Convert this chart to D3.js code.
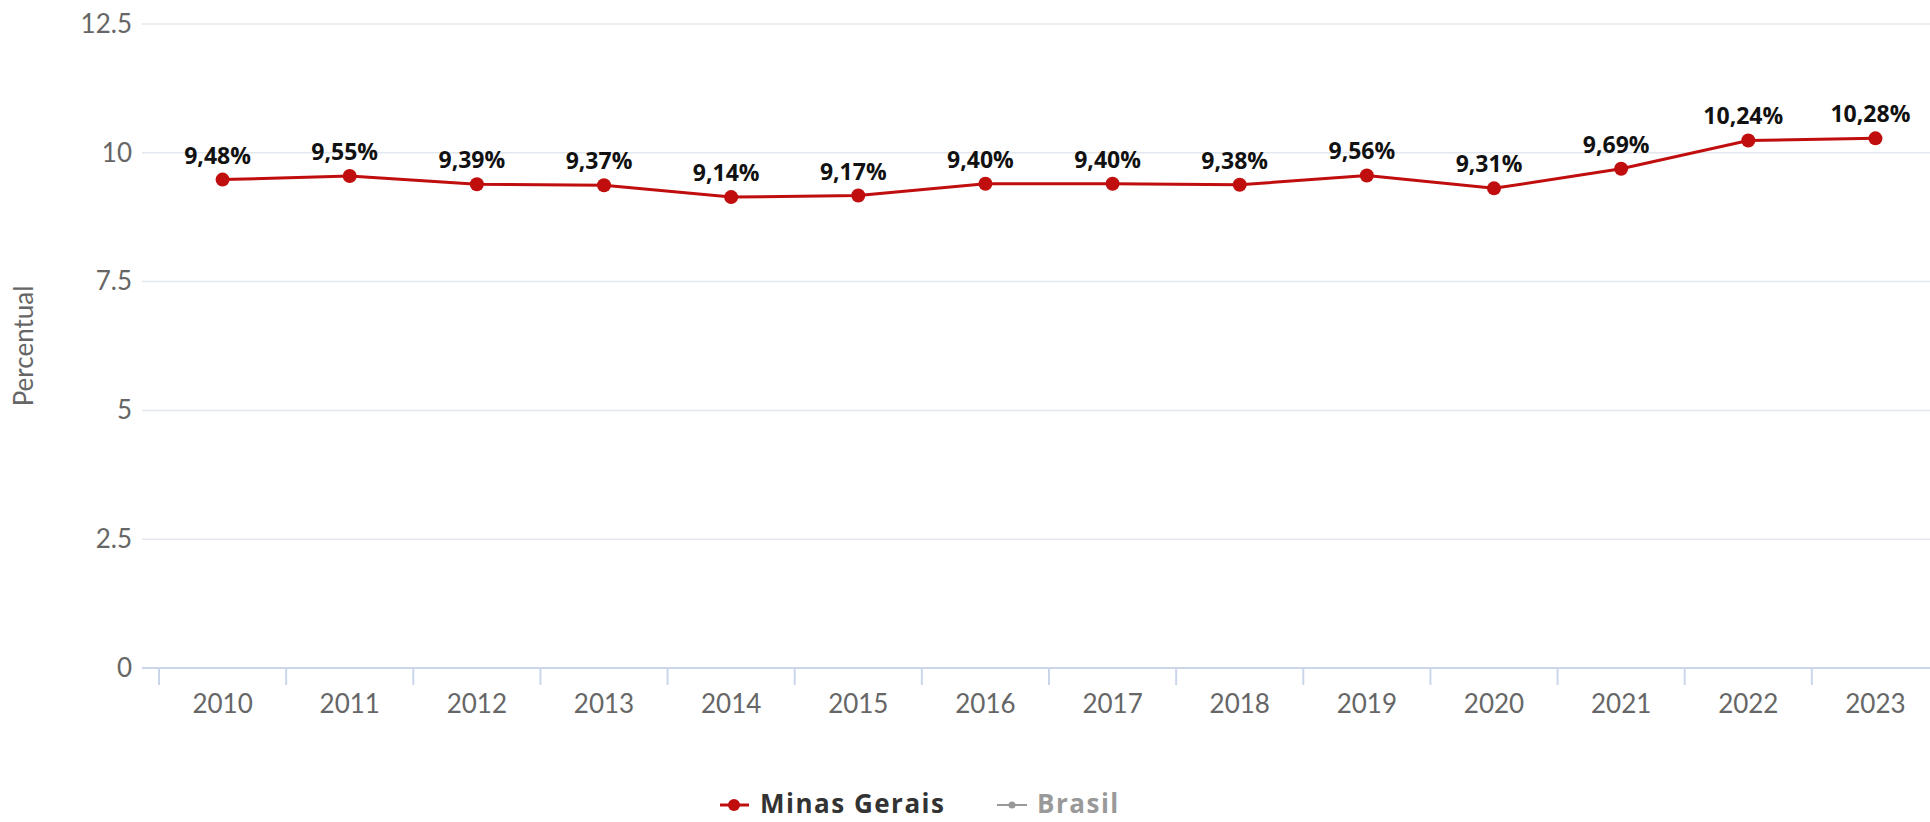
<!DOCTYPE html>
<html>
<head>
<meta charset="utf-8">
<script src="https://cdn.jsdelivr.net/npm/d3@7"></script>
<style>
  body { margin: 0; background: #fff; }
  svg { display: block; font-family: Lato, "Noto Sans", sans-serif; }
</style>
</head>
<body>
<svg id="chart"></svg>
<script>
// data
let years = ["2010", "2011", "2012", "2013", "2014", "2015", "2016", "2017", "2018", "2019", "2020", "2021", "2022", "2023"];
let minasGerais = [9.48, 9.55, 9.39, 9.37, 9.14, 9.17, 9.40, 9.40, 9.38, 9.56, 9.31, 9.69, 10.24, 10.28];
let yTicks = [0, 2.5, 5, 7.5, 10, 12.5];
let legendNames = ["Minas Gerais", "Brasil"];

function getConfig() {
    let width = 1930;
    let height = 822;
    let container = d3.select("#chart")
        .attr("width", width)
        .attr("height", height);
    return { width, height, container };
}

function getScales() {
    // band range runs past the right edge, like the original
    let xScale = d3.scaleBand()
        .domain(years)
        .range([159, 1939]);
    let yScale = d3.scaleLinear()
        .domain([0, 12.5])
        .range([668, 24]);
    return { xScale, yScale };
}

function drawGrid(scales, config) {
    let { yScale } = scales;
    let { container } = config;
    container.append("g")
        .selectAll("line")
        .data(yTicks.filter(t => t > 0))
        .enter().append("line")
        .attr("x1", 142)
        .attr("x2", 1930)
        .attr("y1", d => yScale(d))
        .attr("y2", d => yScale(d))
        .attr("stroke", "#e3e7ee")
        .attr("stroke-width", 1.5);
}

function drawAxes(scales, config) {
    let { xScale, yScale } = scales;
    let { container } = config;

    // x axis: ticks between categories
    let axisX = d3.axisBottom(xScale).tickSize(0).tickPadding(0);
    let gx = container.append("g")
        .attr("transform", `translate(0,${yScale(0)})`)
        .call(axisX);
    gx.select(".domain").remove();
    gx.selectAll("text")
        .attr("y", 45)
        .attr("dy", 0)
        .attr("fill", "#666")
        .style("font-size", "26px")
        .style("font-family", "Lato, sans-serif");

    container.append("line")
        .attr("x1", 142).attr("x2", 1930)
        .attr("y1", yScale(0)).attr("y2", yScale(0))
        .attr("stroke", "#ccd6eb").attr("stroke-width", 2);

    let bounds = years.map(y => xScale(y));
    container.append("g").selectAll("line")
        .data(bounds)
        .enter().append("line")
        .attr("x1", d => d).attr("x2", d => d)
        .attr("y1", yScale(0)).attr("y2", yScale(0) + 17)
        .attr("stroke", "#ccd6eb").attr("stroke-width", 2);

    // y axis labels only
    let axisY = d3.axisLeft(yScale).tickValues(yTicks).tickSize(0).tickPadding(10)
        .tickFormat(d => String(d));
    let gy = container.append("g")
        .attr("transform", "translate(132,0)")
        .call(axisY);
    gy.select(".domain").remove();
    gy.selectAll("text")
        .attr("x", 0)
        .attr("fill", "#666")
        .style("font-size", "26px")
        .style("font-family", "Lato, sans-serif");

    container.append("text")
        .attr("transform", `translate(33,${(yScale(0) + yScale(12.5)) / 2}) rotate(-90)`)
        .attr("text-anchor", "middle")
        .attr("fill", "#666")
        .style("font-size", "26px")
        .text("Percentual");
}

function drawSeries(scales, config) {
    let { xScale, yScale } = scales;
    let { container } = config;
    let cx = d => xScale(years[d]) + xScale.bandwidth() / 2;
    let idx = d3.range(years.length);

    let line = d3.line()
        .x(i => cx(i))
        .y(i => yScale(minasGerais[i]));

    container.append("path")
        .datum(idx)
        .attr("d", line)
        .attr("fill", "none")
        .attr("stroke", "#c00d0d")
        .attr("stroke-width", 3);

    container.append("g").selectAll("circle")
        .data(idx)
        .enter().append("circle")
        .attr("cx", i => cx(i))
        .attr("cy", i => yScale(minasGerais[i]))
        .attr("r", 7)
        .attr("fill", "#c00d0d");

    container.append("g").selectAll("text")
        .data(idx)
        .enter().append("text")
        .attr("x", i => cx(i) - 5)
        .attr("y", i => yScale(minasGerais[i]) - 16)
        .attr("text-anchor", "middle")
        .attr("fill", "#111")
        .style("font-family", "'Open Sans', sans-serif")
        .style("font-size", "23px")
        .style("font-weight", "bold")
        .text(i => minasGerais[i].toFixed(2).replace(".", ",") + "%");
}

function drawLegend(config) {
    let { container } = config;
    let g = container.append("g")
        .style("font-family", "'Open Sans', sans-serif")
        .style("letter-spacing", "1.5px");
    // Minas Gerais
    g.append("line").attr("x1", 720).attr("x2", 749).attr("y1", 805).attr("y2", 805)
        .attr("stroke", "#c00d0d").attr("stroke-width", 3);
    g.append("circle").attr("cx", 734).attr("cy", 805).attr("r", 6).attr("fill", "#c00d0d");
    g.append("text").attr("x", 760).attr("y", 813)
        .attr("fill", "#333").style("font-size", "26px").style("font-weight", "bold")
        .text(legendNames[0]);
    // Brasil
    g.append("line").attr("x1", 997).attr("x2", 1027).attr("y1", 805).attr("y2", 805)
        .attr("stroke", "#999").attr("stroke-width", 2);
    g.append("circle").attr("cx", 1012).attr("cy", 805).attr("r", 3.5).attr("fill", "#999");
    g.append("text").attr("x", 1037).attr("y", 813)
        .attr("fill", "#999").style("font-size", "26px").style("font-weight", "bold")
        .text(legendNames[1]);
}

function drawChart() {
    let config = getConfig();
    let scales = getScales();
    drawGrid(scales, config);
    drawAxes(scales, config);
    drawSeries(scales, config);
    drawLegend(config);
}

drawChart();
</script>
</body>
</html>
